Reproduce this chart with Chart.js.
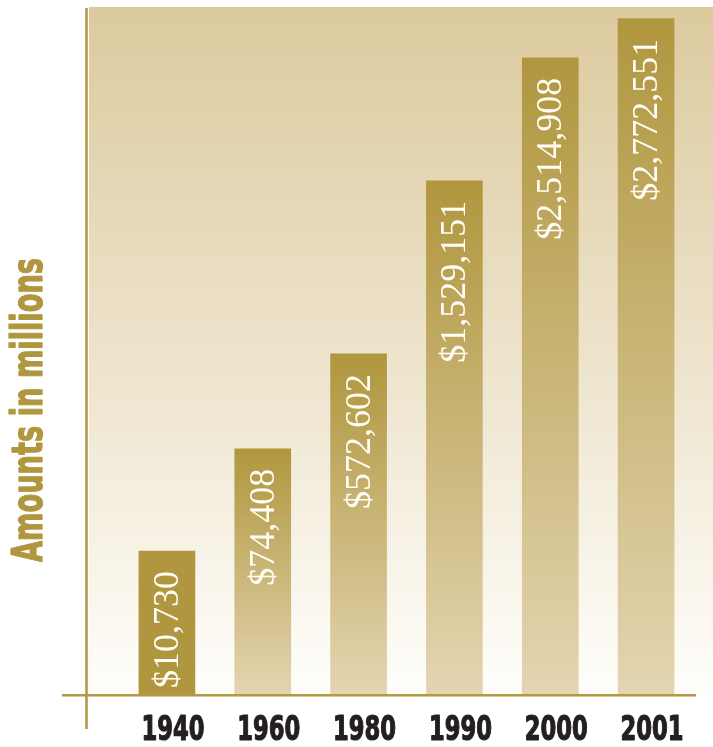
<!DOCTYPE html>
<html>
<head>
<meta charset="utf-8">
<script src="https://cdn.jsdelivr.net/npm/chart.js@4/dist/chart.umd.min.js"></script>
<style>
  html, body { margin: 0; padding: 0; background: #ffffff; }
  canvas { display: block; }
</style>
</head>
<body>
<canvas id="c" width="713" height="747"></canvas>
<script>
// ---- data ----
const years = ['1940', '1960', '1980', '1990', '2000', '2001'];
const amounts = [10730, 74408, 572602, 1529151, 2514908, 2772551]; // $ millions (bar labels)
// drawn bar heights as % of the axis (the illustration is not drawn to scale)
const barHeights = [20.8, 35.7, 49.5, 74.7, 92.6, 98.3];
const axisTitle = 'Amounts in millions';

// ---- styles ----
const GOLD = '#B0963E';
const GOLD_LIGHT = '#E3D5B1';
const NARROW = "'Liberation Sans Narrow', 'DejaVu Sans Condensed', 'DejaVu Sans', sans-serif";
const SERIF = "'Liberation Serif', 'DejaVu Serif', serif";

const fmt = v => '$' + v.toLocaleString('en-US');

// draw text squeezed horizontally to a target width (condensed heavy look)
function squeezedText(ctx, text, x, y, targetWidth, strokeW) {
  const w = ctx.measureText(text).width;
  const sx = Math.min(1, targetWidth / w);
  ctx.save();
  ctx.translate(x, y);
  ctx.scale(sx, 1);
  ctx.fillText(text, 0, 0);
  if (strokeW) {
    ctx.lineJoin = 'round';
    ctx.lineWidth = strokeW;
    ctx.strokeStyle = ctx.fillStyle;
    ctx.strokeText(text, 0, 0);
  }
  ctx.restore();
}

const backgroundPlugin = {
  id: 'bg',
  beforeDraw(chart) {
    const { ctx, chartArea } = chart;
    const left = chartArea.left - 30;
    const g = ctx.createLinearGradient(0, chartArea.top, 0, chartArea.bottom);
    g.addColorStop(0, '#DCCA9E');
    g.addColorStop(0.5, '#EDE3CB');
    g.addColorStop(1, '#FFFEFB');
    ctx.save();
    ctx.fillStyle = g;
    ctx.fillRect(left, chartArea.top, chart.width - left, chartArea.bottom - chartArea.top);
    ctx.restore();
  }
};

const decoPlugin = {
  id: 'deco',
  afterDatasetsDraw(chart) {
    const { ctx, chartArea } = chart;
    const meta = chart.getDatasetMeta(0);
    const xScale = chart.scales.x;
    ctx.save();
    // value labels, rotated, inside the bars
    ctx.fillStyle = '#FFFDF6';
    ctx.font = '36px ' + SERIF;
    ctx.textAlign = 'right';
    ctx.textBaseline = 'alphabetic';
    meta.data.forEach((bar, i) => {
      ctx.save();
      ctx.translate(bar.x + 11, bar.y + 20);
      ctx.rotate(-Math.PI / 2);
      ctx.fillText(fmt(amounts[i]), 0, 0);
      ctx.restore();
    });
    // category labels (condensed heavy)
    ctx.fillStyle = '#231F20';
    ctx.font = 'bold 34px ' + NARROW;
    ctx.textAlign = 'center';
    ctx.textBaseline = 'alphabetic';
    xScale.ticks.forEach((t, i) => {
      const x = xScale.getPixelForTick(i) + 6;
      squeezedText(ctx, xScale.getLabelForValue(t.value), x, 740, 63, 1.2);
    });
    // axis lines
    ctx.strokeStyle = '#B39943';
    ctx.lineWidth = 2.6;
    ctx.beginPath();
    ctx.moveTo(chartArea.left - 57, chartArea.bottom + 1.2);
    ctx.lineTo(chartArea.right + 2, chartArea.bottom + 1.2);
    ctx.stroke();
    ctx.beginPath();
    ctx.moveTo(chartArea.left - 32.5, chartArea.top + 1);
    ctx.lineTo(chartArea.left - 32.5, chartArea.bottom + 35);
    ctx.stroke();
    // axis title
    ctx.fillStyle = GOLD;
    ctx.font = 'bold 43px ' + NARROW;
    ctx.textAlign = 'center';
    ctx.textBaseline = 'alphabetic';
    ctx.translate(42, 410);
    ctx.rotate(-Math.PI / 2);
    squeezedText(ctx, axisTitle, 0, 0, 304, 1.2);
    ctx.restore();
  }
};

new Chart(document.getElementById('c'), {
  type: 'bar',
  data: {
    labels: years,
    datasets: [{
      data: barHeights,
      barThickness: 56,
      borderWidth: 0,
      backgroundColor(context) {
        const chart = context.chart;
        const { ctx, chartArea } = chart;
        if (!chartArea || context.dataIndex === undefined) return GOLD;
        if (context.dataIndex === 0) return GOLD; // first bar is flat
        const top = chart.scales.y.getPixelForValue(barHeights[context.dataIndex]);
        const g = ctx.createLinearGradient(0, top, 0, chartArea.bottom);
        g.addColorStop(0, GOLD);
        g.addColorStop(1, GOLD_LIGHT);
        return g;
      }
    }]
  },
  options: {
    responsive: false,
    devicePixelRatio: 1,
    animation: false,
    layout: { padding: { left: 119, right: 19, top: 7, bottom: 0 } },
    plugins: { legend: { display: false }, tooltip: { enabled: false } },
    scales: {
      x: {
        type: 'category',
        offset: true,
        grid: { display: false, drawTicks: false },
        border: { display: false },
        ticks: { display: false },
        afterFit(s) { s.height = 53; }
      },
      y: { display: false, min: 0, max: 100 }
    }
  },
  plugins: [backgroundPlugin, decoPlugin]
});
</script>
</body>
</html>
